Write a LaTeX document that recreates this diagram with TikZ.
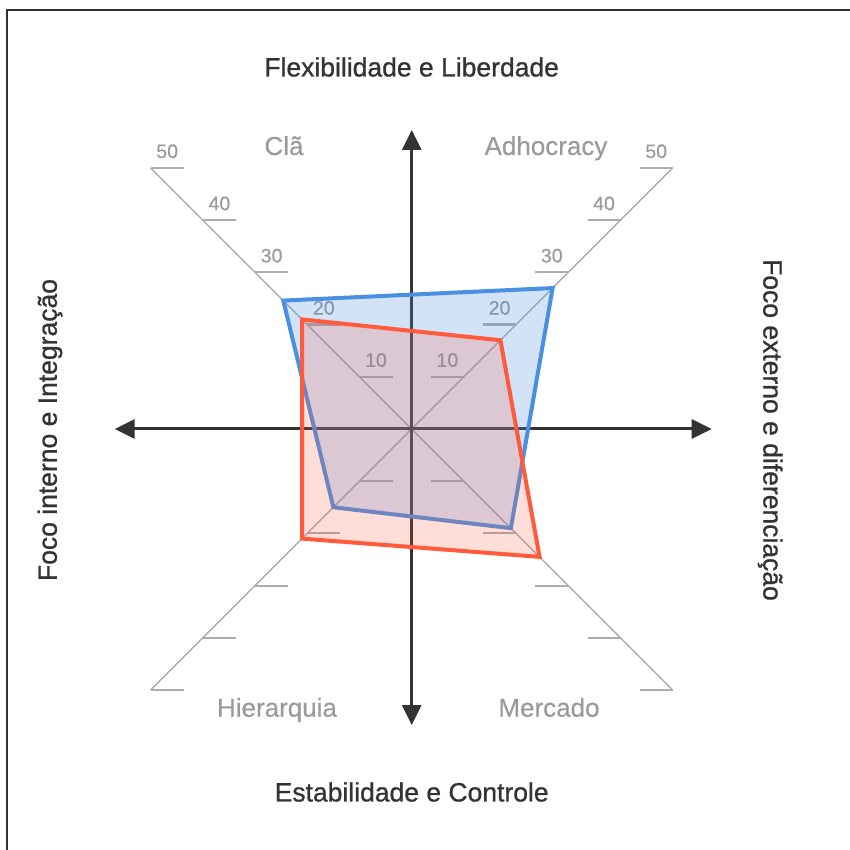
\documentclass[tikz,border=0pt]{standalone}
\usepackage{fontspec}
\setmainfont{Liberation Sans}
\newfontfamily\mediumfont{Liberation Sans}[FakeBold=0.9]
\newfontfamily\softfont{Liberation Sans}[FakeBold=0.4]
\definecolor{AxisDark}{HTML}{333333}
\definecolor{GridGray}{HTML}{ADADAD}
\definecolor{LabelGray}{HTML}{9A9A9A}
\definecolor{SeriesBlue}{HTML}{4A90E2}
\definecolor{SeriesRed}{HTML}{FF5A3C}
\usetikzlibrary{arrows.meta}
\def\radunit{7.382}

\begin{document}
\begin{tikzpicture}[x=1pt,y=1pt,
  axisarrow/.style={AxisDark, line width=3pt, >={Triangle[length=20pt,width=19pt]}, <->},
  gridline/.style={GridGray, line width=1.4pt},
  tickline/.style={GridGray, line width=2.2pt},
  ticklabel/.style={LabelGray, font=\softfont\fontsize{19.5}{19.5}\selectfont, anchor=base, inner sep=0pt},
  quadlabel/.style={LabelGray, font=\softfont\fontsize{26}{26}\selectfont, anchor=base},
  axislabel/.style={AxisDark, font=\mediumfont\fontsize{26.5}{26.5}\selectfont}]
  \useasboundingbox (-411.7,-421) rectangle (438.3,429);
  \draw[AxisDark, line width=1.5pt] (-404.7,-421) -- (-404.7,419) -- (438.3,419);

  % diagonal scales
  \draw[gridline] (135:{50*\radunit}) -- (-45:{50*\radunit});
  \draw[gridline] (45:{50*\radunit}) -- (-135:{50*\radunit});
  \foreach \v in {10,20,...,50} {
    \pgfmathsetmacro\d{\v*5.22}
    \draw[tickline] (-\d,\d) -- ++(33,0);
    \draw[tickline] (\d,\d) -- ++(-33,0);
    \draw[tickline] (-\d,-\d) -- ++(33,0);
    \draw[tickline] (\d,-\d) -- ++(-33,0);
    \node[ticklabel] at (-\d+16.5,\d+10) {\v};
    \node[ticklabel] at (\d-16.5,\d+10) {\v};
  }

  % main axes
  \draw[axisarrow] (0,-296) -- (0,299);
  \draw[axisarrow] (-297,0) -- (300,0);

  % series
  \draw[SeriesBlue, line width=4pt, fill=SeriesBlue, fill opacity=0.25]
    (135:{24.6*\radunit}) -- (45:{27*\radunit}) -- (-45:{19*\radunit}) -- (-135:{15*\radunit}) -- cycle;
  \draw[SeriesRed, line width=4pt, fill=SeriesRed, fill opacity=0.2]
    (135:{21*\radunit}) -- (45:{17*\radunit}) -- (-45:{24.5*\radunit}) -- (-135:{21*\radunit}) -- cycle;

  % labels
  \node[quadlabel] (cla) at (-127.7,274) {Clã};
  \node[quadlabel] (adhocracy) at (134.3,274) {Adhocracy};
  \node[quadlabel] (hierarquia) at (-134.7,-287.7) {Hierarquia};
  \node[quadlabel] (mercado) at (137.3,-287.7) {Mercado};
  \node[axislabel] (flex) at (0,362) {Flexibilidade e Liberdade};
  \node[axislabel] (estab) at (0,-363) {Estabilidade e Controle};
  \node[axislabel, rotate=90] (interno) at (-361.7,-1) {Foco interno e Integração};
  \node[axislabel, rotate=-90] (externo) at (358.5,-1) {Foco externo e diferenciação};
\end{tikzpicture}
\end{document}
